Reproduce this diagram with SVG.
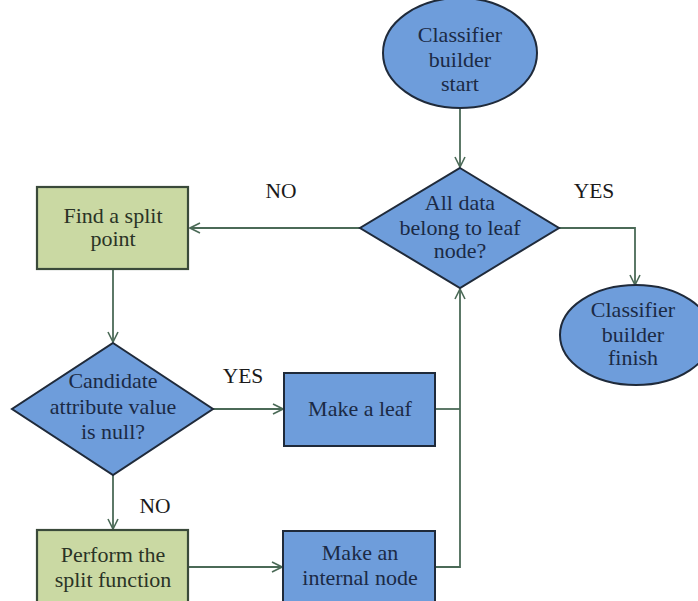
<svg xmlns="http://www.w3.org/2000/svg" width="698" height="601" viewBox="0 0 698 601">
<style>
.blue{fill:#6e9ddb;stroke:#1f2a3a;stroke-width:2}
.green{fill:#cad9a3;stroke:#3a4a3a;stroke-width:2.2}
.t{font-family:"Liberation Serif","Times New Roman",serif;font-size:22px;fill:#1b2a45;text-anchor:middle}
.tg{font-family:"Liberation Serif","Times New Roman",serif;font-size:22px;fill:#2a3326;text-anchor:middle}
.lbl{font-family:"Liberation Serif","Times New Roman",serif;font-size:21.5px;fill:#1a1a1a;text-anchor:middle}
.c{fill:none;stroke:#4b6a57;stroke-width:1.8}
</style>
<defs>
<marker id="a" viewBox="0 0 12 12" refX="11" refY="6" markerWidth="12" markerHeight="12" markerUnits="userSpaceOnUse" orient="auto">
<path d="M1,1 L11,6 L1,11" fill="none" stroke="#4b6a57" stroke-width="1.6"/>
</marker>
</defs>
<rect width="698" height="601" fill="#ffffff"/>
<g id="connectors">
<path class="c" d="M460,108 L460,167" marker-end="url(#a)"/>
<path class="c" d="M360,228 L190,228" marker-end="url(#a)"/>
<path class="c" d="M559,228 L635,228 L635,285" marker-end="url(#a)"/>
<path class="c" d="M113,269 L113,342" marker-end="url(#a)"/>
<path class="c" d="M213,409 L283,409" marker-end="url(#a)"/>
<path class="c" d="M113,475 L113,529" marker-end="url(#a)"/>
<path class="c" d="M188,567 L282,567" marker-end="url(#a)"/>
<path class="c" d="M435,409 L460,409"/>
<path class="c" d="M435,567 L460,567 L460,289" marker-end="url(#a)"/>
<text class="lbl" x="281" y="198">NO</text>
<text class="lbl" x="594" y="198">YES</text>
<text class="lbl" x="243" y="383">YES</text>
<text class="lbl" x="155" y="513">NO</text>
</g>
<g id="start">
<ellipse class="blue" cx="460" cy="53" rx="77" ry="55"/>
<text class="t" x="460" y="42">Classifier</text>
<text class="t" x="460" y="67">builder</text>
<text class="t" x="460" y="91">start</text>
</g>
<g id="decision-leaf">
<polygon class="blue" points="460,168 559,228 460,288 360,228"/>
<text class="t" x="460" y="210">All data</text>
<text class="t" x="460" y="235">belong to leaf</text>
<text class="t" x="460" y="258">node?</text>
</g>
<g id="finish">
<ellipse class="blue" cx="636" cy="335" rx="76" ry="50"/>
<text class="t" x="633" y="317">Classifier</text>
<text class="t" x="633" y="342">builder</text>
<text class="t" x="633" y="365">finish</text>
</g>
<g id="find-split">
<rect class="green" x="37" y="187" width="151" height="82"/>
<text class="tg" x="113" y="223">Find a split</text>
<text class="tg" x="113" y="246">point</text>
</g>
<g id="decision-null">
<polygon class="blue" points="113,343 213,409 113,475 12,409"/>
<text class="t" x="113" y="388">Candidate</text>
<text class="t" x="113" y="414">attribute value</text>
<text class="t" x="113" y="439">is null?</text>
</g>
<g id="make-leaf">
<rect class="blue" x="284" y="373" width="151" height="73"/>
<text class="t" x="360" y="416">Make a leaf</text>
</g>
<g id="perform-split">
<rect class="green" x="37" y="530" width="151" height="80"/>
<text class="tg" x="113" y="562">Perform the</text>
<text class="tg" x="113" y="587">split function</text>
</g>
<g id="make-internal">
<rect class="blue" x="283" y="531" width="152" height="80"/>
<text class="t" x="360" y="560">Make an</text>
<text class="t" x="360" y="585">internal node</text>
</g>
</svg>
